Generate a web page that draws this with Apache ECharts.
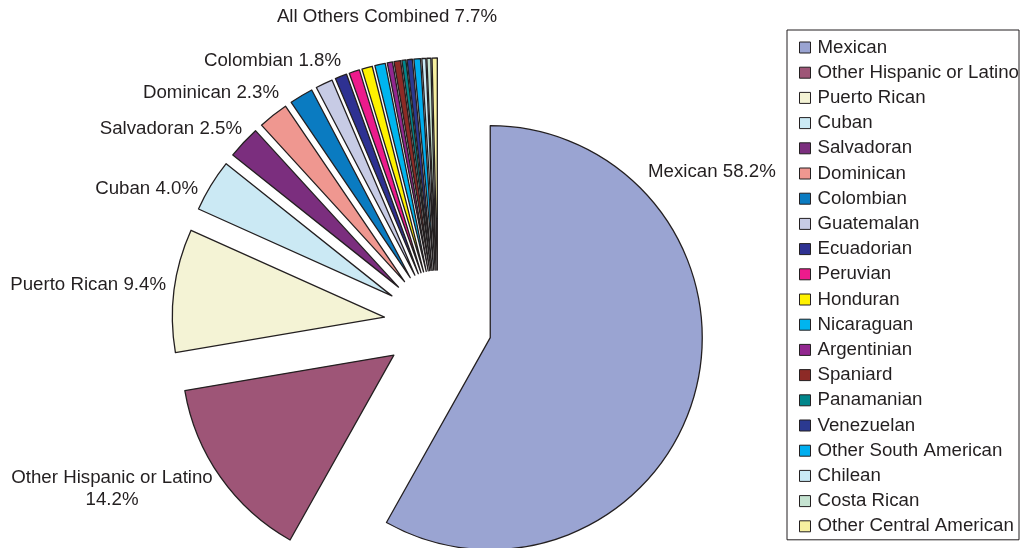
<!DOCTYPE html>
<html>
<head>
<meta charset="utf-8">
<title>Hispanic or Latino Population by Origin</title>
<script src="https://cdn.jsdelivr.net/npm/echarts@6/dist/echarts.min.js"></script>
<style>
  html, body { margin: 0; padding: 0; background: #ffffff; }
  #chart { width: 1023px; height: 548px; }
</style>
</head>
<body>
<div id="chart"></div>
<script>
// Origin groups, in slice order (clockwise from 12 o'clock)
var categories = [
  'Mexican', 'Other Hispanic or Latino', 'Puerto Rican', 'Cuban', 'Salvadoran',
  'Dominican', 'Colombian', 'Guatemalan', 'Ecuadorian', 'Peruvian', 'Honduran',
  'Nicaraguan', 'Argentinian', 'Spaniard', 'Panamanian', 'Venezuelan',
  'Other South American', 'Chilean', 'Costa Rican', 'Other Central American'
];

// Share of the Hispanic or Latino population, percent
var shares = [
  58.2, 14.2, 9.4, 4.0, 2.5,
  2.3, 1.8, 1.3, 0.9, 0.8, 0.8,
  0.8, 0.4, 0.5, 0.3, 0.4,
  0.5, 0.3, 0.3, 0.4
];

// Number of leading groups that get their own label; the rest are combined
var labelledCount = 7;

var palette = [
  '#9aa4d2', '#9e5577', '#f4f3d5', '#cbe9f4', '#7b2e7e',
  '#ef9790', '#0a7bc1', '#c7cbe5', '#2e3192', '#ec1b8c', '#fff200',
  '#00b5ef', '#92278f', '#8d2a26', '#00868b', '#2b3990',
  '#00aeef', '#c9eaf6', '#c5e3d1', '#f7f0a0'
];

// Where each slice label sits: [x, y, align]
var labelAnchors = [
  [648, 172, 'left'],
  [112, 489, 'center'],
  [166, 285, 'right'],
  [198, 189, 'right'],
  [242, 129, 'right'],
  [279, 93, 'right'],
  [341, 61, 'right']
];

var ink = '#231f20';
var fontFamily = '"Liberation Sans", Arial, Helvetica, sans-serif';
var fontSize = 18.7;

var othersTotal = shares.slice(labelledCount).reduce(function (s, v) { return s + v; }, 0);

var pieData = categories.map(function (name, i) {
  return {
    name: name,
    value: shares[i],
    selected: true,
    itemStyle: { color: palette[i] }
  };
});

// Slice labels: name and share, written next to each exploded slice
var labelTexts = labelAnchors.map(function (a, i) {
  var sep = i === 1 ? '\n' : ' ';
  return {
    type: 'text',
    x: a[0],
    y: a[1],
    style: {
      text: categories[i] + sep + shares[i].toFixed(1) + '%',
      fontFamily: fontFamily,
      fontSize: fontSize,
      lineHeight: 22,
      fill: ink,
      align: a[2],
      verticalAlign: 'middle'
    }
  };
});

labelTexts.push({
  type: 'text',
  x: 387,
  y: 17,
  style: {
    text: 'All Others Combined ' + othersTotal.toFixed(1) + '%',
    fontFamily: fontFamily,
    fontSize: fontSize,
    fill: ink,
    align: 'center',
    verticalAlign: 'middle'
  }
});

var chart = echarts.init(document.getElementById('chart'), null, { renderer: 'canvas' });

chart.setOption({
  animation: false,
  backgroundColor: '#ffffff',
  textStyle: { fontFamily: fontFamily },
  legend: {
    orient: 'vertical',
    left: 787,
    top: 30,
    padding: [8, 0, 4, 12],
    borderColor: ink,
    borderWidth: 1,
    itemWidth: 11,
    itemHeight: 11,
    itemGap: 6.2,
    icon: 'rect',
    selectedMode: false,
    itemStyle: { borderColor: ink, borderWidth: 1 },
    textStyle: {
      fontFamily: fontFamily,
      fontSize: fontSize,
      lineHeight: 18,
      color: ink,
      padding: [0, 0, 0, 2]
    },
    data: categories
  },
  graphic: labelTexts,
  series: [{
    type: 'pie',
    center: [438, 324],
    radius: [0, 212],
    startAngle: 90,
    clockwise: true,
    selectedMode: 'multiple',
    selectedOffset: 54,
    avoidLabelOverlap: false,
    emphasis: { disabled: true },
    itemStyle: { borderColor: ink, borderWidth: 1.3 },
    select: { itemStyle: { borderColor: ink, borderWidth: 1.3 } },
    label: { show: false },
    labelLine: { show: false },
    data: pieData
  }]
});
</script>
</body>
</html>
